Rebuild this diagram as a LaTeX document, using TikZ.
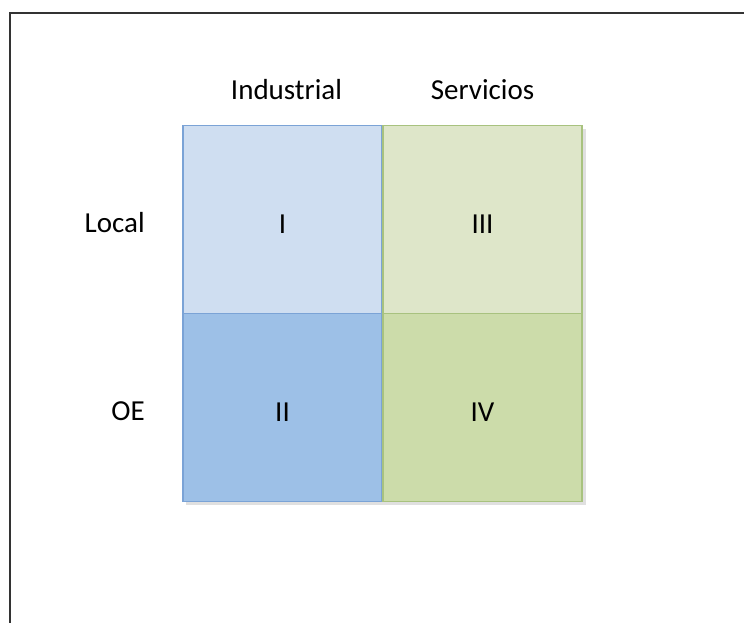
\documentclass[tikz,border=0pt]{standalone}
\usepackage{fontspec}
\setmainfont{Carlito}
\usetikzlibrary{positioning}

\definecolor{indlight}{HTML}{CFDEF1}
\definecolor{inddark}{HTML}{9DC0E7}
\definecolor{indline}{HTML}{7BA3D6}
\definecolor{serlight}{HTML}{DEE6C9}
\definecolor{serdark}{HTML}{CCDCAA}
\definecolor{serline}{HTML}{A8C27F}

\begin{document}
\begin{tikzpicture}[
    x=1pt, y=-1pt,
    cell/.style={draw, line width=1.3pt, rectangle, font=\fontsize{29}{34}\selectfont,
                 minimum width=199pt, minimum height=188pt, inner sep=0pt,
                 text height=27pt, text depth=0pt},
    head/.style={font=\fontsize{29}{34}\selectfont, inner sep=0pt},
    frame/.style={draw=black!80, line width=1.6pt}
]
    \useasboundingbox (0,0) rectangle (744,622);

    % --- Outer frame (only top and left edges show) ---
    \draw[frame] (10,640) -- (10,13) -- (760,13);

    % --- Soft shadow under the grid ---
    \fill[black!12] (186,129) rectangle (586,505);

    % --- Quadrants ---
    \node[cell, fill=indlight, draw=indline] (q1) at (282.5,219.5) {I};
    \node[cell, fill=inddark,  draw=indline] (q2) at (282.5,407.5) {II};
    \node[cell, fill=serlight, draw=serline] (q3) at (482.5,219.5) {III};
    \node[cell, fill=serdark,  draw=serline] (q4) at (482.5,407.5) {IV};

    % --- Column headings ---
    \node[head, above=25pt of q1.north, xshift=4pt] (ind) {Industrial};
    \node[head, above=25pt of q3.north] (ser) {Servicios};

    % --- Row headings ---
    \coordinate (rowedge) at (145,0);
    \node[head, anchor=east, yshift=-3pt] (loc) at (rowedge |- q1) {Local};
    \node[head, anchor=east, yshift=-4pt] (oe)  at (rowedge |- q2) {OE};
\end{tikzpicture}
\end{document}
